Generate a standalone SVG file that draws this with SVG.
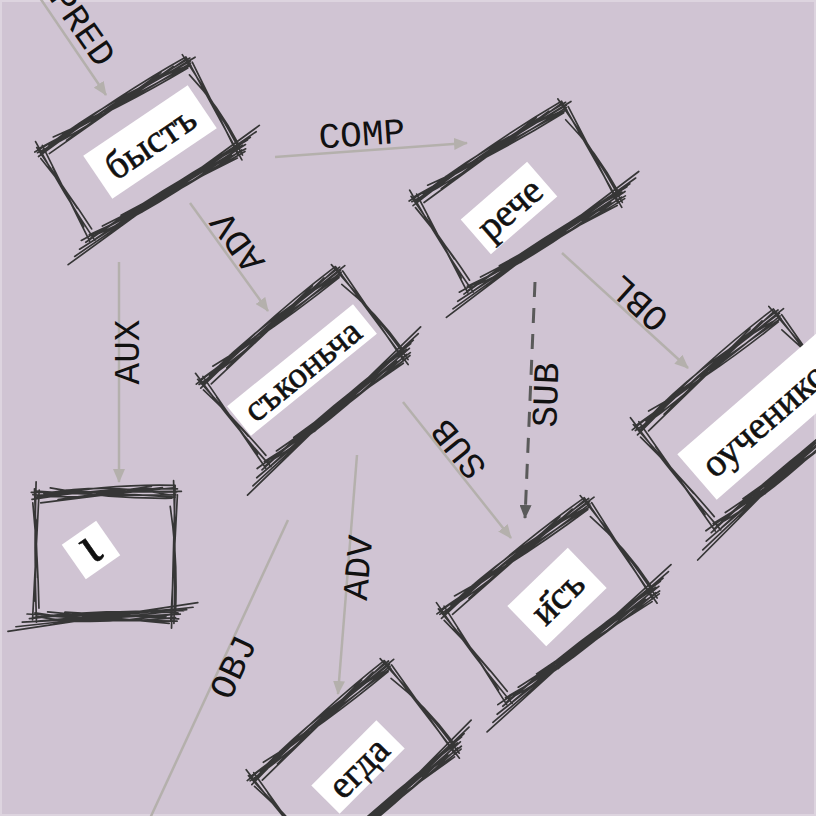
<svg xmlns="http://www.w3.org/2000/svg" xmlns:xlink="http://www.w3.org/1999/xlink" width="816" height="816" viewBox="0 0 816 816">
<style>
.sk path{fill:none;stroke:#363636;stroke-width:1.7;stroke-linecap:round;vector-effect:non-scaling-stroke}
.lb rect{fill:#ffffff}
.lb text{font-family:"Liberation Serif","DejaVu Serif",serif;font-size:39px;fill:#111;stroke:#111;stroke-width:0.6;text-anchor:middle;dominant-baseline:central}
.e{fill:none;stroke:#b4b0ac;stroke-width:2.5}
.ed{fill:none;stroke:#5a5a5a;stroke-width:3;stroke-dasharray:15 11}
.el{font-family:"Courier New","Nimbus Mono PS","Liberation Mono",monospace;font-size:36px;fill:#111;text-anchor:middle;dominant-baseline:central}
</style>
<defs>
<marker id="ah" viewBox="0 0 14 12" refX="13" refY="6" markerWidth="14" markerHeight="12" markerUnits="userSpaceOnUse" orient="auto"><path d="M0,0 L14,6 L0,12 z" fill="#b4b0ac"/></marker>
<marker id="ahd" viewBox="0 0 14 12" refX="13" refY="6" markerWidth="14" markerHeight="12" markerUnits="userSpaceOnUse" orient="auto"><path d="M0,0 L14,6 L0,12 z" fill="#5a5a5a"/></marker>
<g id="sk" class="sk">
<path d="M-93,-47 Q-5,-58 91,-57 M-88,-54 Q0,-50 89,-52 M-86,-50 Q10,-61 87,-60 M-82,-44 L72,-58 M-70,-57 Q0,-48 84,-49 M-94,-53 L96,-55 M-60,-47 L58,-59 M-89,-49 Q-20,-56 90,-54 M-78,-52 Q0,-62 80,-52 M-50,-55 L88,-50 M-92,-51 Q-30,-46 40,-56 M-20,-50 L86,-58"/>
<path d="M-112,62 L112,44 M-90,54 Q0,46 93,49 M-88,50 Q5,60 90,53 M-84,57 L85,46 M-72,49 L82,58 M-95,55 Q-10,48 100,47 M-60,56 Q10,50 78,52 M-104,58 L96,50 M-40,52 L66,47 M-122,66 L118,40 M-80,52 Q0,56 92,56 M-66,60 Q0,46 70,48 M-98,51 L60,56 M-30,57 L104,46 M-86,53 Q-20,62 88,50 M-50,49 L94,54"/>
<path d="M-88,-62 Q-90,0 -86,58 M-84,-55 L-91,56 M-92,-44 Q-85,0 -83,46 M-86,-30 L-89,40 M-90,-56 L-85,20"/>
<path d="M86,-64 Q90,0 88,58 M91,-52 L84,56 M82,-42 Q92,0 90,47 M88,-60 L85,62 M87,-20 L90,50"/>
</g>
</defs>
<rect x="0" y="0" width="816" height="816" fill="#d0c4d3"/>
<rect x="1" y="1" width="814" height="814" fill="none" stroke="#ddd4df" stroke-width="2"/>

<g id="connectors">
<line class="e" x1="40" y1="-2" x2="106" y2="95" marker-end="url(#ah)"/>
<line class="e" x1="275" y1="157" x2="467" y2="143" marker-end="url(#ah)"/>
<line class="e" x1="190" y1="203" x2="268" y2="311" marker-end="url(#ah)"/>
<line class="e" x1="119" y1="262" x2="119" y2="482" marker-end="url(#ah)"/>
<line class="e" x1="562" y1="253" x2="688" y2="368" marker-end="url(#ah)"/>
<line class="ed" x1="535" y1="282" x2="525" y2="518" marker-end="url(#ahd)"/>
<line class="e" x1="403" y1="402" x2="511" y2="538" marker-end="url(#ah)"/>
<line class="e" x1="357" y1="455" x2="338" y2="694" marker-end="url(#ah)"/>
<line class="e" x1="288" y1="520" x2="140" y2="840" marker-end="url(#ah)"/>
<text class="el" transform="translate(81,28) rotate(55)">PRED</text>
<text class="el" transform="translate(362,136) rotate(-4)">COMP</text>
<text class="el" transform="translate(239,241) rotate(234)">ADV</text>
<text class="el" transform="translate(129,352) rotate(-90)">AUX</text>
<text class="el" transform="translate(640,302) rotate(222)">OBL</text>
<text class="el" transform="translate(548,395) rotate(-88)">SUB</text>
<text class="el" transform="translate(460,448) rotate(231)">SUB</text>
<text class="el" transform="translate(360,568) rotate(-85)">ADV</text>
<text class="el" transform="translate(235,668) rotate(-65)">OBJ</text>
</g>

<g id="n-bysti">
<use xlink:href="#sk" transform="translate(140,150) rotate(-30) scale(0.98,0.96)"/>
<g class="lb" transform="translate(150,142) rotate(-34)"><rect x="-63" y="-26" width="126" height="52"/><text x="0" y="0">быстъ</text></g>
</g>
<g id="n-reche">
<use xlink:href="#sk" transform="translate(517,198) rotate(-31) scale(1,1)"/>
<g class="lb" transform="translate(509,208) rotate(-41)"><rect x="-44" y="-23" width="88" height="46"/><text x="0" y="0">рече</text></g>
</g>
<g id="n-skonicha">
<use xlink:href="#sk" transform="translate(303,368) rotate(-38) scale(1,1)"/>
<g class="lb" transform="translate(302,370) rotate(-39)"><rect x="-81" y="-19" width="162" height="38"/><text x="0" y="0" style="font-size:37px">съконьча</text></g>
</g>
<g id="n-ouchenikomi">
<use xlink:href="#sk" transform="translate(747,421) rotate(-38) scale(1.02,1.2)"/>
<g class="lb" transform="translate(697,477) rotate(-41)"><rect x="0" y="-30" width="220" height="60"/><text x="12" y="0" style="text-anchor:start">оученико</text></g>
</g>
<g id="n-i">
<use xlink:href="#sk" transform="translate(105,555) rotate(0.5) scale(0.79,1.17)"/>
<g class="lb" transform="translate(91,550) rotate(-35)"><rect x="-21" y="-21" width="42" height="42"/><text x="0" y="-6" style="font-size:56px">ι</text></g>
</g>
<g id="n-isi">
<use xlink:href="#sk" transform="translate(548,602) rotate(-36) scale(1.03,1.05)"/>
<g class="lb" transform="translate(557,597) rotate(-44)"><rect x="-42" y="-28" width="84" height="56"/><text x="0" y="0">и҃съ</text></g>
</g>
<g id="n-egda">
<use xlink:href="#sk" transform="translate(354,763) rotate(-39) scale(1,1.01)"/>
<g class="lb" transform="translate(358,767) rotate(-45)"><rect x="-46" y="-20" width="92" height="40"/><text x="0" y="0">егда</text></g>
</g>
</svg>
